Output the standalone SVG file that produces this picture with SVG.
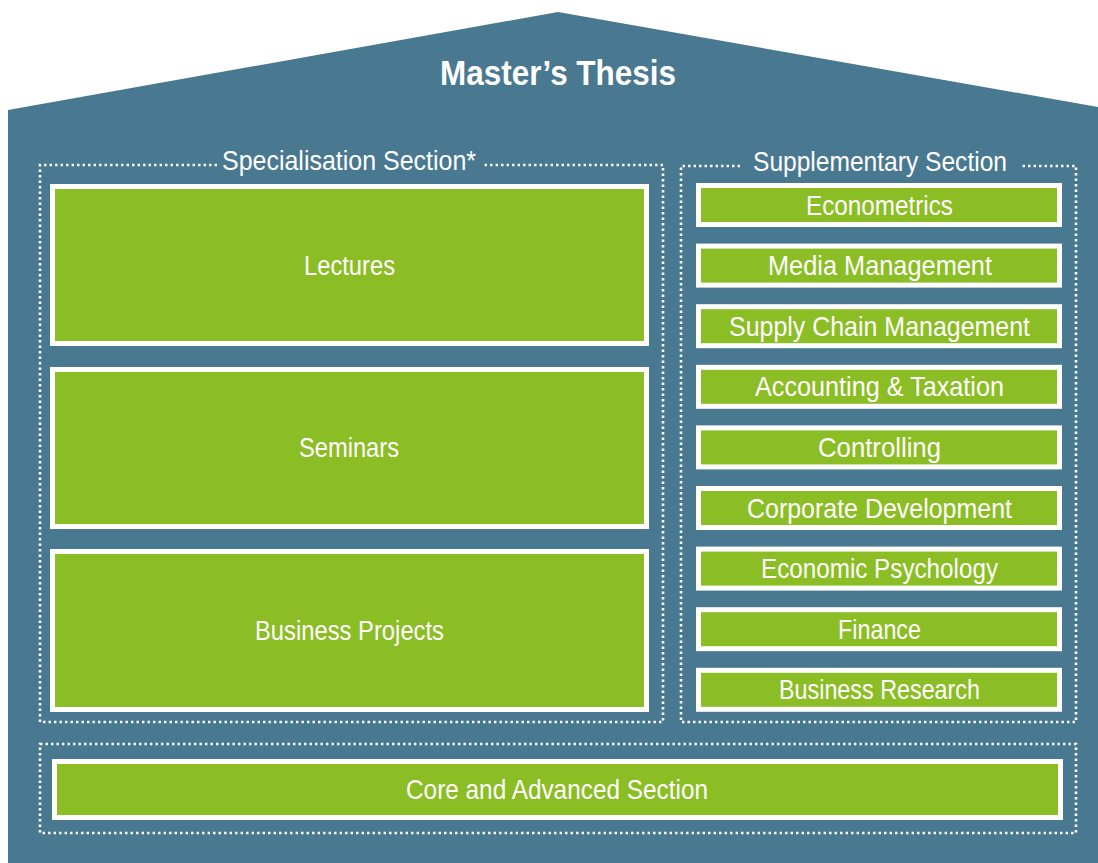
<svg xmlns="http://www.w3.org/2000/svg" width="1098" height="863" viewBox="0 0 1098 863">
<defs>
<style>
.house{fill:#497891}
.dots{fill:none;stroke:#ffffff;stroke-width:2.6;stroke-dasharray:2.4 3.1}
.box{fill:#8bbd24;stroke:#ffffff;stroke-width:5}
.t{font-family:"Liberation Sans",Arial,sans-serif;font-size:27.5px;fill:#ffffff;text-anchor:middle}
.title{font-family:"Liberation Sans",Arial,sans-serif;font-size:35px;font-weight:bold;fill:#ffffff;text-anchor:middle}
</style>
</defs>
<rect width="1098" height="863" fill="#ffffff"/>
<g id="house">
<polygon class="house" points="8,110 558,12 1098,107 1098,863 8,863"/>
<text class="title" x="558" y="85" textLength="236" lengthAdjust="spacingAndGlyphs">Master’s Thesis</text>
</g>
<g id="frames">
<path class="dots" d="M217,165 H40 V722 H663 V165 H482"/>
<path class="dots" d="M740,166 H681 V722 H1076 V166 H1022"/>
<rect class="dots" x="40" y="744" width="1036" height="89"/>
<text class="t" x="349" y="170" textLength="254" lengthAdjust="spacingAndGlyphs">Specialisation Section*</text>
<text class="t" x="880" y="171" textLength="254" lengthAdjust="spacingAndGlyphs">Supplementary Section</text>
</g>
<g id="lectures"><rect class="box" x="52.5" y="186.5" width="594" height="157"/><text class="t" x="349.5" y="275" textLength="91" lengthAdjust="spacingAndGlyphs">Lectures</text></g>
<g id="seminars"><rect class="box" x="52.5" y="369.5" width="594" height="157"/><text class="t" x="349" y="457" textLength="100" lengthAdjust="spacingAndGlyphs">Seminars</text></g>
<g id="business-projects"><rect class="box" x="52.5" y="551.5" width="594" height="158"/><text class="t" x="349.5" y="640" textLength="189" lengthAdjust="spacingAndGlyphs">Business Projects</text></g>
<g id="econometrics"><rect class="box" x="698.5" y="185.5" width="361" height="39"/><text class="t" x="879.5" y="214.5" textLength="147" lengthAdjust="spacingAndGlyphs">Econometrics</text></g>
<g id="media-management"><rect class="box" x="698.5" y="246.1" width="361" height="39"/><text class="t" x="880" y="275.1" textLength="224" lengthAdjust="spacingAndGlyphs">Media Management</text></g>
<g id="supply-chain-management"><rect class="box" x="698.5" y="306.7" width="361" height="39"/><text class="t" x="879.5" y="335.7" textLength="301" lengthAdjust="spacingAndGlyphs">Supply Chain Management</text></g>
<g id="accounting-taxation"><rect class="box" x="698.5" y="367.3" width="361" height="39"/><text class="t" x="879.5" y="396.3" textLength="249" lengthAdjust="spacingAndGlyphs">Accounting &amp; Taxation</text></g>
<g id="controlling"><rect class="box" x="698.5" y="427.9" width="361" height="39"/><text class="t" x="879.5" y="456.9" textLength="123" lengthAdjust="spacingAndGlyphs">Controlling</text></g>
<g id="corporate-development"><rect class="box" x="698.5" y="488.5" width="361" height="39"/><text class="t" x="879.5" y="517.5" textLength="265" lengthAdjust="spacingAndGlyphs">Corporate Development</text></g>
<g id="economic-psychology"><rect class="box" x="698.5" y="549.1" width="361" height="39"/><text class="t" x="879.5" y="578.1" textLength="237" lengthAdjust="spacingAndGlyphs">Economic Psychology</text></g>
<g id="finance"><rect class="box" x="698.5" y="609.7" width="361" height="39"/><text class="t" x="879.5" y="638.7" textLength="83" lengthAdjust="spacingAndGlyphs">Finance</text></g>
<g id="business-research"><rect class="box" x="698.5" y="670.3" width="361" height="39"/><text class="t" x="879.5" y="699.3" textLength="201" lengthAdjust="spacingAndGlyphs">Business Research</text></g>
<g id="core-advanced"><rect class="box" x="54.5" y="761.5" width="1006" height="56"/><text class="t" x="557" y="799" textLength="302" lengthAdjust="spacingAndGlyphs">Core and Advanced Section</text></g>
<g id="connectors"/>
</svg>
